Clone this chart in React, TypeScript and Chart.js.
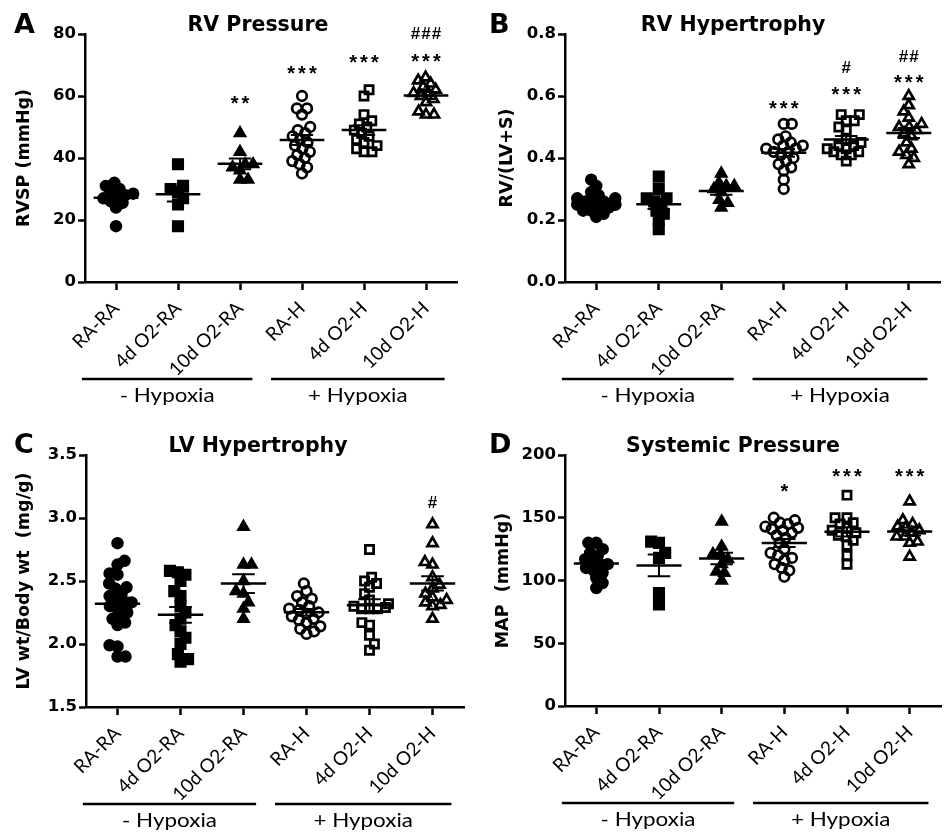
import React, { useEffect, useRef } from "react";
import { Chart, registerables } from "chart.js";
Chart.register(...registerables);

// ---------------- DATA ----------------
const categories = ["RA-RA", "4d O2-RA", "10d O2-RA", "RA-H", "4d O2-H", "10d O2-H"];
const groupLabels = ["- Hypoxia", "+ Hypoxia"];

// Panel A: RVSP (mmHg)
const rvspRARA = [18, 24, 25.5, 26, 27, 27.5, 28, 28.5, 29, 30, 31, 32];
const rvsp4dRA = [18, 25, 27, 29, 30, 31, 38];
const rvsp10dRA = [33, 33, 36, 37, 38, 38, 42, 48];
const rvspRAH = [35, 37, 38, 39, 40, 41, 42, 43, 44, 45, 46, 47, 48, 49, 50, 54, 56, 56, 60];
const rvsp4dH = [42, 42, 43, 44, 45, 46, 47, 48, 49, 50, 51, 52, 54, 60, 62];
const rvsp10dH = [54, 54, 55, 58, 59, 60, 61, 61, 62, 63, 64, 65, 66];
const rvspTicks = [0, 20, 40, 60, 80];

// Panel B: RV/(LV+S)
const rvhRARA = [0.21, 0.22, 0.23, 0.23, 0.24, 0.24, 0.25, 0.25, 0.25, 0.25, 0.26, 0.26, 0.26, 0.27, 0.27, 0.28, 0.29, 0.31, 0.33];
const rvh4dRA = [0.17, 0.2, 0.22, 0.23, 0.25, 0.26, 0.27, 0.27, 0.3, 0.34];
const rvh10dRA = [0.24, 0.255, 0.265, 0.29, 0.3, 0.31, 0.31, 0.32, 0.35];
const rvhRAH = [0.3, 0.33, 0.36, 0.37, 0.38, 0.39, 0.4, 0.41, 0.42, 0.42, 0.43, 0.43, 0.44, 0.44, 0.45, 0.46, 0.47, 0.51, 0.51];
const rvh4dH = [0.39, 0.41, 0.41, 0.42, 0.42, 0.43, 0.43, 0.44, 0.44, 0.45, 0.46, 0.49, 0.5, 0.52, 0.52, 0.54, 0.54];
const rvh10dH = [0.38, 0.4, 0.41, 0.42, 0.43, 0.45, 0.47, 0.48, 0.49, 0.5, 0.5, 0.51, 0.53, 0.55, 0.57, 0.6];
const rvhTicks = [0, 0.2, 0.4, 0.6, 0.8];

// Panel C: LV wt / Body wt (mg/g)
const lvRARA = [1.9, 1.9, 1.98, 1.99, 2.15, 2.17, 2.2, 2.22, 2.25, 2.28, 2.3, 2.32, 2.33, 2.35, 2.38, 2.4, 2.44, 2.45, 2.48, 2.55, 2.56, 2.63, 2.66, 2.8];
const lv4dRA = [1.86, 1.88, 1.92, 2.0, 2.05, 2.1, 2.15, 2.2, 2.25, 2.3, 2.38, 2.42, 2.5, 2.55, 2.57, 2.58];
const lv10dRA = [2.2, 2.28, 2.33, 2.4, 2.42, 2.5, 2.63, 2.63, 2.93];
const lvRAH = [2.08, 2.1, 2.12, 2.14, 2.17, 2.19, 2.2, 2.22, 2.24, 2.25, 2.27, 2.28, 2.3, 2.33, 2.36, 2.38, 2.42, 2.48];
const lv4dH = [1.95, 2.0, 2.07, 2.15, 2.17, 2.28, 2.28, 2.28, 2.29, 2.3, 2.32, 2.35, 2.4, 2.45, 2.48, 2.5, 2.53, 2.75];
const lv10dH = [2.2, 2.3, 2.31, 2.33, 2.35, 2.37, 2.4, 2.44, 2.47, 2.53, 2.63, 2.65, 2.8, 2.95];
const lvTicks = [1.5, 2.0, 2.5, 3.0, 3.5];

// Panel D: MAP (mmHg)
const mapRARA = [94, 98, 102, 106, 108, 110, 112, 113, 115, 117, 120, 122, 125, 130, 130];
const map4dRA = [81, 90, 118, 122, 130, 131];
const map10dRA = [100, 106, 107, 113, 117, 120, 121, 127, 147];
const mapRAH = [103, 108, 110, 113, 116, 118, 120, 122, 125, 130, 134, 136, 138, 140, 141, 142, 143, 145, 146, 148, 150];
const map4dH = [113, 120, 128, 132, 135, 136, 138, 140, 142, 145, 146, 150, 150, 168];
const map10dH = [119, 131, 130, 135, 135, 138, 140, 142, 143, 145, 148, 163];
const mapTicks = [0, 50, 100, 150, 200];

// significance marks: category index, text, value at which the mark sits
const sigA = [
  { cat: 2, text: "**", y: 58.7 },
  { cat: 3, text: "***", y: 68.5 },
  { cat: 4, text: "***", y: 72 },
  { cat: 5, text: "***", y: 72.4 },
  { cat: 5, text: "###", y: 80.2 },
];
const sigB = [
  { cat: 3, text: "***", y: 0.57 },
  { cat: 4, text: "***", y: 0.615 },
  { cat: 4, text: "#", y: 0.695 },
  { cat: 5, text: "***", y: 0.654 },
  { cat: 5, text: "##", y: 0.729 },
];
const sigC = [{ cat: 5, text: "#", y: 3.13 }];
const sigD = [
  { cat: 3, text: "*", y: 173.6 },
  { cat: 4, text: "***", y: 186 },
  { cat: 5, text: "***", y: 186 },
];

// ---------------- STYLE / LAYOUT ----------------
const markerStyle = ["circle", "rect", "triangle", "circle", "rect", "triangle"];
const markerFilled = [true, true, true, false, false, false];
const markerRadius = [5.5, 7.5, 6.8, 4.8, 5.8, 5.8];
const groupSpans = [[-0.55, 2.2], [2.5, 5.3]];
const BOLD = "'DejaVu Sans'";
const SWARM_D = 8;
const SWARM_MAX = 19;

type Sig = { cat: number; text: string; y: number };
type PanelCfg = {
  x: number; y: number; w: number; h: number;
  left: number; right: number; top: number; bottom: number;
  letter: string; title: string; yTitle: string; yTitleX: number;
  groups: number[][]; ticks: number[]; decimals: number; sig: Sig[];
};

const panels: PanelCfg[] = [
  { x: 0, y: 0, w: 475, h: 420, left: 85, right: 457, top: 34, bottom: 282, letter: "A", title: "RV Pressure", yTitle: "RVSP (mmHg)", yTitleX: 24,
    groups: [rvspRARA, rvsp4dRA, rvsp10dRA, rvspRAH, rvsp4dH, rvsp10dH], ticks: rvspTicks, decimals: 0, sig: sigA },
  { x: 475, y: 0, w: 475, h: 420, left: 90, right: 465, top: 34, bottom: 282, letter: "B", title: "RV Hypertrophy", yTitle: "RV/(LV+S)", yTitleX: 32,
    groups: [rvhRARA, rvh4dRA, rvh10dRA, rvhRAH, rvh4dH, rvh10dH], ticks: rvhTicks, decimals: 1, sig: sigB },
  { x: 0, y: 420, w: 475, h: 412, left: 86, right: 464, top: 35, bottom: 287, letter: "C", title: "LV Hypertrophy", yTitle: "LV wt/Body wt  (mg/g)", yTitleX: 24,
    groups: [lvRARA, lv4dRA, lv10dRA, lvRAH, lv4dH, lv10dH], ticks: lvTicks, decimals: 1, sig: sigC },
  { x: 475, y: 420, w: 475, h: 412, left: 90, right: 468, top: 35, bottom: 286, letter: "D", title: "Systemic Pressure", yTitle: "MAP  (mmHg)", yTitleX: 28,
    groups: [mapRARA, map4dRA, map10dRA, mapRAH, map4dH, map10dH], ticks: mapTicks, decimals: 0, sig: sigD },
];

// beeswarm layout of points within a column (pixel based, converted to category units)
function swarm(values: number[], min: number, max: number, plotH: number, catW: number, D: number, maxOff: number): number[] {
  const ppu = plotH / (max - min);
  const order = values.map((_, i) => i).sort((a, b) => values[a] - values[b]);
  const placed: { x: number; y: number }[] = [];
  const offs = new Array(values.length).fill(0);
  let flip = 1;
  for (const i of order) {
    const y = (values[i] - min) * ppu;
    const iv: [number, number][] = [];
    for (const p of placed) {
      const dy = Math.abs(p.y - y);
      if (dy < D) {
        const w = Math.sqrt(D * D - dy * dy);
        iv.push([p.x - w, p.x + w]);
      }
    }
    const cands = [0];
    iv.forEach(([a, b]) => cands.push(a, b));
    const ok = (x: number) => iv.every(([a, b]) => x <= a + 1e-6 || x >= b - 1e-6);
    let best: number | null = null;
    for (const c of cands) {
      if (!ok(c)) continue;
      if (best === null) { best = c; continue; }
      const dc = Math.abs(c), db = Math.abs(best);
      if (dc < db - 1e-6 || (Math.abs(dc - db) < 1e-6 && Math.sign(c) === flip)) best = c;
    }
    if (best === null) best = 0;
    if (best !== 0) flip = -flip;
    best = Math.max(-maxOff, Math.min(maxOff, best));
    placed.push({ x: best, y });
    offs[i] = best / catW;
  }
  return offs;
}

const mean = (a: number[]) => a.reduce((s, v) => s + v, 0) / a.length;
const sem = (a: number[]) => {
  const m = mean(a);
  const sd = Math.sqrt(a.reduce((s, v) => s + (v - m) * (v - m), 0) / (a.length - 1));
  return sd / Math.sqrt(a.length);
};

function makePlugin(cfg: PanelCfg) {
  return {
    id: "decor" + cfg.letter,
    afterDatasetsDraw(chart: any) {
      const ctx = chart.ctx as CanvasRenderingContext2D;
      const xs = chart.scales.x, ys = chart.scales.y;
      ctx.save();
      ctx.strokeStyle = "#000";
      ctx.lineCap = "butt";
      cfg.groups.forEach((vals, i) => {
        const m = mean(vals), e = sem(vals);
        const ym = ys.getPixelForValue(m);
        ctx.lineWidth = 2.5;
        ctx.beginPath();
        ctx.moveTo(xs.getPixelForValue(i - 0.36), ym);
        ctx.lineTo(xs.getPixelForValue(i + 0.36), ym);
        ctx.stroke();
        const yt = ys.getPixelForValue(m + e), yb = ys.getPixelForValue(m - e);
        const xc = xs.getPixelForValue(i);
        ctx.lineWidth = 2;
        ctx.beginPath();
        ctx.moveTo(xc, yt); ctx.lineTo(xc, yb);
        ctx.moveTo(xs.getPixelForValue(i - 0.18), yt); ctx.lineTo(xs.getPixelForValue(i + 0.18), yt);
        ctx.moveTo(xs.getPixelForValue(i - 0.18), yb); ctx.lineTo(xs.getPixelForValue(i + 0.18), yb);
        ctx.stroke();
      });
      ctx.restore();
    },
    afterDraw(chart: any) {
      const ctx = chart.ctx as CanvasRenderingContext2D;
      const xs = chart.scales.x, ys = chart.scales.y;
      const area = chart.chartArea;
      ctx.save();
      ctx.fillStyle = "#000";
      ctx.strokeStyle = "#000";
      // panel letter
      ctx.font = `bold 27px ${BOLD}`;
      ctx.textAlign = "left";
      ctx.textBaseline = "alphabetic";
      ctx.fillText(cfg.letter, 14, 33);
      // title
      ctx.font = `bold 20.5px ${BOLD}`;
      ctx.textAlign = "center";
      ctx.fillText(cfg.title, 258, cfg.top - 3);
      // y title
      ctx.save();
      ctx.translate(cfg.yTitleX, (area.top + area.bottom) / 2);
      ctx.rotate(-Math.PI / 2);
      ctx.font = `bold 17.5px ${BOLD}`;
      ctx.textBaseline = "middle";
      ctx.fillText(cfg.yTitle, 0, 0);
      ctx.restore();
      // significance marks
      cfg.sig.forEach((s) => {
        const isStar = s.text.includes("*");
        ctx.font = isStar ? "bold 20px 'Liberation Sans'" : "bold 17px 'Liberation Sans'";
        const sp = isStar ? 3 : 1;
        (ctx as any).letterSpacing = `${sp}px`;
        ctx.textAlign = "center";
        ctx.textBaseline = "alphabetic";
        const mt = ctx.measureText(s.text);
        const dy = (mt.actualBoundingBoxAscent - mt.actualBoundingBoxDescent) / 2;
        ctx.fillText(s.text, xs.getPixelForValue(s.cat) + sp / 2, ys.getPixelForValue(s.y) + dy);
      });
      (ctx as any).letterSpacing = "0px";
      // group lines and labels
      const ly = area.bottom + 97;
      groupSpans.forEach(([a, b], gi) => {
        const xa = xs.getPixelForValue(a), xb = xs.getPixelForValue(b);
        ctx.lineWidth = 2.5;
        ctx.beginPath();
        ctx.moveTo(xa, ly); ctx.lineTo(xb, ly);
        ctx.stroke();
        ctx.save();
        ctx.translate((xa + xb) / 2, area.bottom + 120);
        ctx.scale(1.12, 1);
        ctx.font = "20px Lato";
        ctx.textAlign = "center";
        ctx.textBaseline = "alphabetic";
        ctx.fillText(groupLabels[gi], 0, 0);
        ctx.restore();
      });
      ctx.restore();
    },
  };
}

function buildConfig(cfg: PanelCfg): any {
  const min = cfg.ticks[0], max = cfg.ticks[cfg.ticks.length - 1];
  const plotH = cfg.bottom - cfg.top;
  const catW = (cfg.right - cfg.left) / categories.length;
  const datasets = cfg.groups.map((vals, i) => {
    const offs = swarm(vals, min, max, plotH, catW, SWARM_D, SWARM_MAX);
    const filled = markerFilled[i];
    return {
      type: "scatter",
      label: categories[i],
      data: vals.map((v, k) => ({ x: i + offs[k], y: v })),
      pointStyle: markerStyle[i],
      pointRadius: markerRadius[i],
      pointHoverRadius: markerRadius[i],
      pointBackgroundColor: filled ? "#000" : "rgba(0,0,0,0)",
      pointBorderColor: "#000",
      pointBorderWidth: filled ? 1.5 : 2.7,
      showLine: false,
      clip: false,
    };
  });
  return {
    type: "scatter",
    data: { datasets },
    plugins: [makePlugin(cfg)],
    options: {
      animation: false,
      responsive: false,
      events: [],
      layout: { padding: { top: cfg.top, right: cfg.w - cfg.right, left: 0, bottom: 0 } },
      plugins: { legend: { display: false }, tooltip: { enabled: false }, title: { display: false } },
      scales: {
        x: {
          type: "linear",
          min: -0.5,
          max: 5.5,
          afterBuildTicks: (s: any) => { s.ticks = categories.map((_, i) => ({ value: i })); },
          afterFit: (s: any) => { s.height = cfg.h - cfg.bottom; },
          ticks: {
            autoSkip: false,
            minRotation: 45,
            maxRotation: 45,
            padding: 7,
            color: "#000",
            font: { family: "Lato", size: 19 },
            callback: (v: number) => categories[Math.round(v)] ?? "",
          },
          grid: { drawOnChartArea: false, drawTicks: true, tickLength: 8, tickWidth: 2.5, color: "#000" },
          border: { display: true, color: "#000", width: 2.5 },
        },
        y: {
          type: "linear",
          min,
          max,
          afterBuildTicks: (s: any) => { s.ticks = cfg.ticks.map((v) => ({ value: v })); },
          afterFit: (s: any) => { s.width = cfg.left; },
          ticks: {
            padding: 2,
            color: "#000",
            font: { family: BOLD, weight: "bold", size: 16.5 },
            callback: (v: number) => Number(v).toFixed(cfg.decimals),
          },
          grid: { drawOnChartArea: false, drawTicks: true, tickLength: 7, tickWidth: 2.5, color: "#000" },
          border: { display: true, color: "#000", width: 2.5 },
        },
      },
    },
  };
}

function Panel({ cfg }: { cfg: PanelCfg }) {
  const ref = useRef<HTMLCanvasElement>(null);
  useEffect(() => {
    const chart = new Chart(ref.current as HTMLCanvasElement, buildConfig(cfg));
    return () => chart.destroy();
  }, [cfg]);
  return (
    <canvas
      ref={ref}
      width={cfg.w}
      height={cfg.h}
      style={{ position: "absolute", left: cfg.x, top: cfg.y, width: cfg.w, height: cfg.h, display: "block" }}
    />
  );
}

export default function App() {
  return (
    <div style={{ position: "absolute", left: 0, top: 0, width: 950, height: 832, background: "#fff", overflow: "hidden" }}>
      {panels.map((p) => (
        <Panel key={p.letter} cfg={p} />
      ))}
    </div>
  );
}
